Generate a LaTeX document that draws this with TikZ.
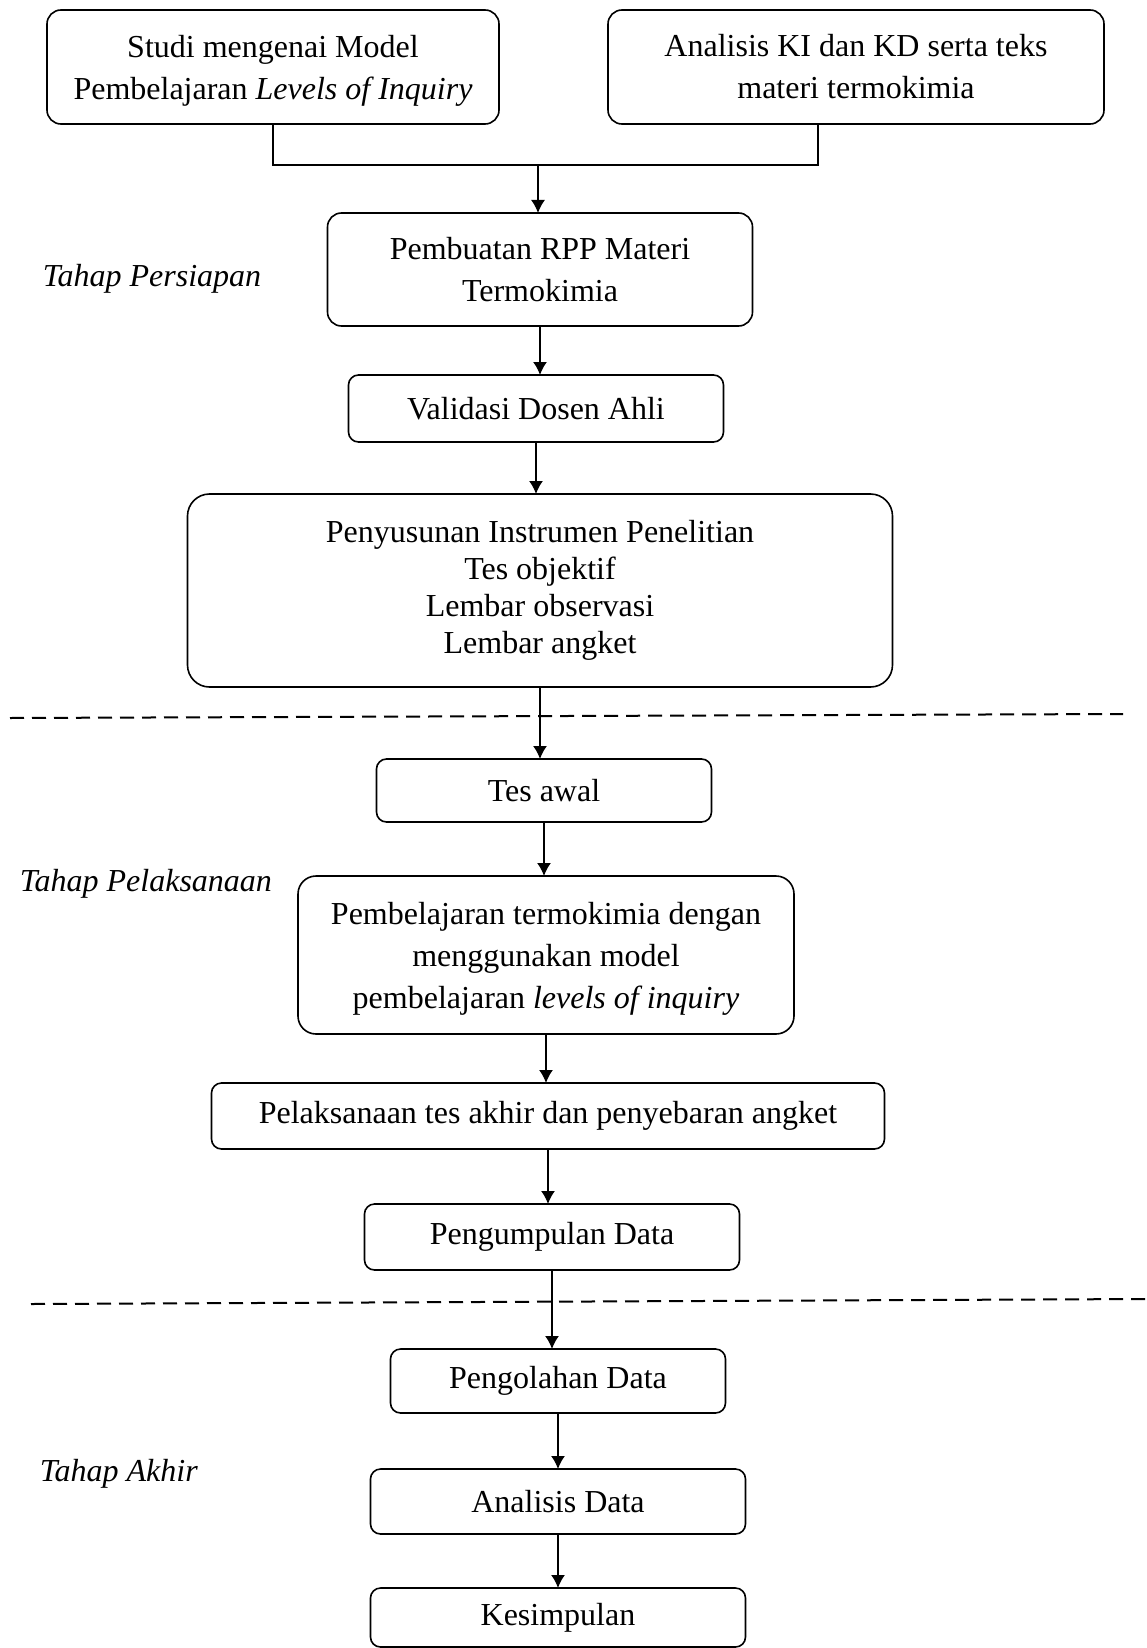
\documentclass[tikz,border=0pt]{standalone}
\usepackage{fontspec}
\setmainfont{Liberation Serif}
\usetikzlibrary{positioning, arrows.meta, calc}
\tikzset{
    >={Latex[length=6.5pt,width=7pt]}, % filled arrow heads
    node distance=26pt, % gap between two boxes of the flow
    stage/.style={draw, line width=0.8pt, rounded corners=5pt, align=center, inner sep=2pt, outer sep=0pt,
        font=\fontsize{16}{21}\selectfont}, % every box of the flow
    phase/.style={anchor=west, inner sep=0pt, font=\fontsize{16}{21}\selectfont\itshape}, % stage names on the left
    divider/.style={dash pattern=on 7pt off 4pt, line width=1pt}, % lines between the stages
}
\begin{document}
\begin{tikzpicture}[x=0.5pt, y=-0.5pt, line width=0.8pt]
    \useasboundingbox (0,0) rectangle (1146,1648);

    % preparation
    \node[stage, rounded corners=7pt, minimum width=226pt, minimum height=57pt] (studi) at (273,67)
        {Studi mengenai Model\\\smash{Pembelajaran \textit{Levels of Inquiry}}};
    \node[stage, rounded corners=7pt, minimum width=248pt, minimum height=57pt] (kikd) at (856,67)
        {Analisis KI dan KD serta teks\\materi termokimia};
    \node[stage, rounded corners=7pt, minimum width=212.5pt, minimum height=56.5pt] (rpp) at (540,269.5)
        {Pembuatan RPP Materi\\Termokimia};
    \node[stage, minimum width=187.5pt, minimum height=33.5pt, below=24.5pt of rpp, xshift=-2pt] (validasi)
        {Validasi Dosen Ahli};
    \node[stage, rounded corners=11pt, minimum width=352.5pt, minimum height=96.5pt, below=26pt of validasi, xshift=2pt,
        font=\fontsize{16}{18.5}\selectfont] (instrumen)
        {Penyusunan Instrumen Penelitian\\Tes objektif\\Lembar observasi\\Lembar angket};

    % implementation
    \node[stage, minimum width=167.5pt, minimum height=31.5pt, below=36pt of instrumen, xshift=2pt] (tesawal)
        {Tes awal};
    \node[stage, rounded corners=9pt, minimum width=248pt, minimum height=79pt, below=27pt of tesawal, xshift=1pt] (pembelajaran)
        {Pembelajaran termokimia dengan\\menggunakan model\\\smash{pembelajaran \textit{levels of inquiry}}};
    \node[stage, minimum width=336.5pt, minimum height=33pt, below=24.5pt of pembelajaran, xshift=1pt] (tesakhir)
        {Pelaksanaan tes akhir dan penyebaran angket};
    \node[stage, minimum width=187.5pt, minimum height=33pt, below=27.5pt of tesakhir, xshift=2pt] (pengumpulan)
        {Pengumpulan Data};

    % final stage
    \node[stage, minimum width=167.5pt, minimum height=32pt, below=39.5pt of pengumpulan, xshift=3pt] (pengolahan)
        {Pengolahan Data};
    \node[stage, minimum width=187.5pt, minimum height=32.5pt, below=28pt of pengolahan] (analisis)
        {Analisis Data};
    \node[stage, minimum width=187.5pt, minimum height=29.5pt, below=27pt of analisis] (kesimpulan)
        {Kesimpulan};

    \node[phase] (persiapan) at (42,279) {Tahap Persiapan};
    \node[phase] (pelaksanaan) at (19,884) {Tahap Pelaksanaan};
    \node[phase] (akhir) at (39,1474) {Tahap Akhir};

    \draw[divider] (10,718) -- (1123,714);
    \draw[divider] (31,1304) -- (1146,1299);

    \coordinate (split) at (538,165);
    \coordinate[xshift=-19pt] (kikdfoot) at (kikd.south);
    \draw (studi.south) |- (split) -| (kikdfoot);
    \draw[->] (split) -- (split |- rpp.north);
    \draw[->] (rpp.south) -- (rpp.south |- validasi.north);
    \draw[->] (validasi.south) -- (validasi.south |- instrumen.north);
    \draw[->] (instrumen.south) -- (instrumen.south |- tesawal.north);
    \draw[->] (tesawal.south) -- (tesawal.south |- pembelajaran.north);
    \draw[->] (pembelajaran.south) -- (pembelajaran.south |- tesakhir.north);
    \draw[->] (tesakhir.south) -- (tesakhir.south |- pengumpulan.north);
    \draw[->] (pengumpulan.south) -- (pengumpulan.south |- pengolahan.north);
    \draw[->] (pengolahan.south) -- (pengolahan.south |- analisis.north);
    \draw[->] (analisis.south) -- (analisis.south |- kesimpulan.north);
\end{tikzpicture}
\end{document}
